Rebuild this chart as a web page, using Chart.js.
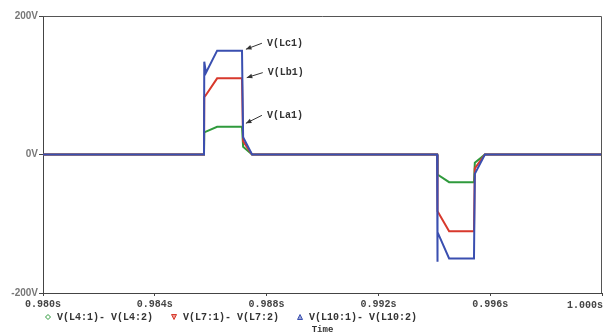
<!DOCTYPE html>
<html>
<head>
<meta charset="utf-8">
<script src="https://cdn.jsdelivr.net/npm/chart.js@4"></script>
<style>
  body { margin: 0; background: #fff; }
  #wrap { width: 603px; height: 332px; position: relative; }
</style>
</head>
<body>
<div id="wrap"><canvas id="myChart"></canvas></div>
<script>
'use strict'

// Data (time in s, voltage in V)
let times = [0.980, 0.98576, 0.98577, 0.98583, 0.98623, 0.98712, 0.98716, 0.98748, 0.99410, 0.99411, 0.99412, 0.99453, 0.99542, 0.99545, 0.99581, 1.000];
let vLa1 = [0, 0, 32, 33, 40, 40, 11, 0, 0, -29, -29, -40, -40, -12, 0, 0];
let vLb1 = [0, 0, 83, 86, 110, 110, 19, 0, 0, -82, -82, -111, -111, -20, 0, 0];
let vLc1 = [0, 0, 134, 118, 150, 150, 25, 0, 0, -155, -112, -150, -150, -28, 0, 0];

let xTicks = [0.980, 0.984, 0.988, 0.992, 0.996, 1.000];
let yTicks = [-200, 0, 200];

let legendNames = ['V(L4:1)- V(L4:2)', 'V(L7:1)- V(L7:2)', 'V(L10:1)- V(L10:2)'];

// callouts: label, where the arrow points (time, volts)
let annLabels = ['V(Lc1)', 'V(Lb1)', 'V(La1)'];
let annTimes = [0.98726, 0.98729, 0.98726];
let annValues = [152, 111, 45];

let green = '#2f9a3c';
let red = '#d8392c';
let blue = '#3a4fb0';

function toPoints(vals) {
  let pts = [];
  for (let i = 0; i < times.length; i++) {
    pts.push({ x: times[i], y: vals[i] });
  }
  return pts;
}

let monoFont = "'Liberation Mono', 'DejaVu Sans Mono', monospace";

// draws plot frame, callouts, legend and the last x label
const extras = {
  id: 'extras',
  afterDraw(chart) {
    const ctx = chart.ctx;
    const area = chart.chartArea;
    const xs = chart.scales.x;
    const ys = chart.scales.y;
    ctx.save();

    // frame top + right
    ctx.strokeStyle = '#555';
    ctx.lineWidth = 1;
    ctx.beginPath();
    ctx.moveTo(area.left, area.top + 0.5);
    ctx.lineTo(area.right - 0.5, area.top + 0.5);
    ctx.lineTo(area.right - 0.5, area.bottom);
    ctx.stroke();

    // last x label, right aligned
    ctx.fillStyle = '#444';
    ctx.font = 'bold 10px ' + monoFont;
    ctx.textAlign = 'right';
    ctx.textBaseline = 'middle';
    ctx.fillText(xTicks[xTicks.length - 1].toFixed(3) + 's', 603, 305);

    // callouts
    ctx.strokeStyle = '#333';
    ctx.fillStyle = '#333';
    ctx.textAlign = 'left';
    let dys = [-6, -5, -8];
    for (let i = 0; i < annLabels.length; i++) {
      let tx = xs.getPixelForValue(annTimes[i]);
      let ty = ys.getPixelForValue(annValues[i]);
      let sx = tx + 16;
      let sy = ty + dys[i];
      ctx.beginPath();
      ctx.moveTo(sx, sy);
      ctx.lineTo(tx, ty);
      ctx.stroke();
      let ang = Math.atan2(ty - sy, tx - sx);
      ctx.beginPath();
      ctx.moveTo(tx, ty);
      ctx.lineTo(tx - 6 * Math.cos(ang - 0.4), ty - 6 * Math.sin(ang - 0.4));
      ctx.lineTo(tx - 6 * Math.cos(ang + 0.4), ty - 6 * Math.sin(ang + 0.4));
      ctx.closePath();
      ctx.fill();
      ctx.fillText(annLabels[i], sx + 5, sy);
    }

    // legend row
    let x = 48;
    let y = 317;
    let colors = [green, red, blue];
    for (let i = 0; i < legendNames.length; i++) {
      ctx.strokeStyle = colors[i];
      ctx.fillStyle = colors[i];
      ctx.lineWidth = 1;
      ctx.beginPath();
      if (i === 0) {
        ctx.moveTo(x, y - 2.5); ctx.lineTo(x + 2.5, y); ctx.lineTo(x, y + 2.5); ctx.lineTo(x - 2.5, y);
        ctx.closePath();
        ctx.stroke();
      } else if (i === 1) {
        ctx.moveTo(x - 2.5, y - 2.5); ctx.lineTo(x + 2.5, y - 2.5); ctx.lineTo(x, y + 2.5);
        ctx.closePath();
        ctx.globalAlpha = 0.5; ctx.fill(); ctx.globalAlpha = 1; ctx.stroke();
      } else {
        ctx.moveTo(x - 2.5, y + 2.5); ctx.lineTo(x + 2.5, y + 2.5); ctx.lineTo(x, y - 2.5);
        ctx.closePath();
        ctx.globalAlpha = 0.5; ctx.fill(); ctx.globalAlpha = 1; ctx.stroke();
      }
      ctx.fillStyle = '#333';
      ctx.fillText(legendNames[i], x + 9, y);
      x += 9 + ctx.measureText(legendNames[i]).width + 21;
    }
    ctx.restore();
  }
};

const data = {
  datasets: [
    { label: 'V(L10:1)- V(L10:2)', data: toPoints(vLc1), borderColor: blue, order: 1 },
    { label: 'V(L7:1)- V(L7:2)', data: toPoints(vLb1), borderColor: red, order: 2 },
    { label: 'V(L4:1)- V(L4:2)', data: toPoints(vLa1), borderColor: green, order: 3 }
  ]
};

const config = {
  type: 'line',
  data: data,
  options: {
    responsive: true,
    maintainAspectRatio: false,
    animation: false,
    layout: { padding: { top: 16, right: 1, left: 0, bottom: 0 } },
    elements: {
      point: { radius: 0 },
      line: { borderWidth: 2, tension: 0 }
    },
    plugins: {
      legend: { display: false },
      tooltip: { enabled: false }
    },
    scales: {
      x: {
        type: 'linear',
        min: xTicks[0],
        max: xTicks[xTicks.length - 1],
        afterBuildTicks: (scale) => { scale.ticks = xTicks.map(v => ({ value: v })); },
        afterFit: (scale) => { scale.height = 39; scale.paddingLeft = 0; scale.paddingRight = 0; },
        border: { color: '#444', width: 1 },
        grid: { drawOnChartArea: false, drawTicks: true, tickLength: 3, color: '#444' },
        ticks: {
          maxRotation: 0,
          autoSkip: false,
          padding: 2,
          color: '#444',
          font: { family: monoFont, size: 10, weight: 'bold' },
          callback: (v) => (Math.abs(v - 1.000) < 1e-9 ? '' : v.toFixed(3) + 's')
        },
        title: {
          display: true,
          text: 'Time',
          color: '#333',
          padding: { top: 17, bottom: 0 },
          font: { family: monoFont, size: 9, weight: 'bold', lineHeight: 0.6 }
        }
      },
      y: {
        min: yTicks[0],
        max: yTicks[yTicks.length - 1],
        afterBuildTicks: (scale) => { scale.ticks = yTicks.map(v => ({ value: v })); },
        afterFit: (scale) => { scale.width = 43; },
        border: { color: '#444', width: 1 },
        grid: { drawOnChartArea: false, drawTicks: true, tickLength: 4, color: '#444' },
        ticks: {
          padding: 1,
          color: '#777',
          font: { family: "'Liberation Sans', Arial, sans-serif", size: 10, weight: 'bold' },
          callback: (v) => v + 'V'
        }
      }
    }
  },
  plugins: [extras]
};

const myChart = new Chart(document.getElementById('myChart'), config);
</script>
</body>
</html>
